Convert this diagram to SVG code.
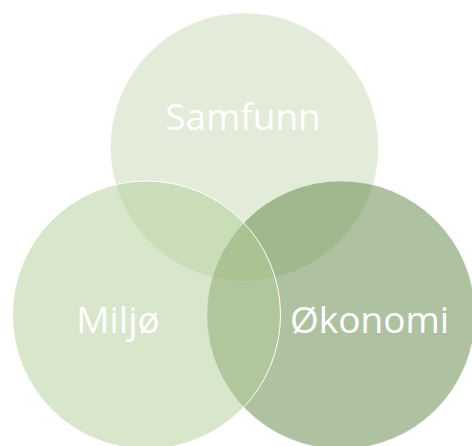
<svg xmlns="http://www.w3.org/2000/svg" width="472" height="446" viewBox="0 0 472 446">
<style>
.c{stroke:#ffffff;stroke-width:1;fill-opacity:0.5}
.t{font-family:"Open Sans","Noto Sans","DejaVu Sans",sans-serif;font-size:37px;fill:#ffffff;text-anchor:middle}
</style>
<rect width="472" height="446" fill="#ffffff"/>
<g id="samfunn">
<circle class="c" cx="244.5" cy="147" r="134" fill="#c7d9b3" stroke-opacity="0.3"/>
</g>
<g id="okonomi">
<circle class="c" cx="341" cy="315" r="134" fill="#5d8341" stroke-opacity="0.3"/>
</g>
<g id="miljo">
<circle class="c" cx="146.5" cy="315" r="134" fill="#b1cd99"/>
</g>
<g id="labels">
<text class="t" x="243" y="130">Samfunn</text>
<text class="t" x="118" y="333">Miljø</text>
<text class="t" x="369.5" y="333">Økonomi</text>
</g>
<g id="connectors"/>
</svg>
